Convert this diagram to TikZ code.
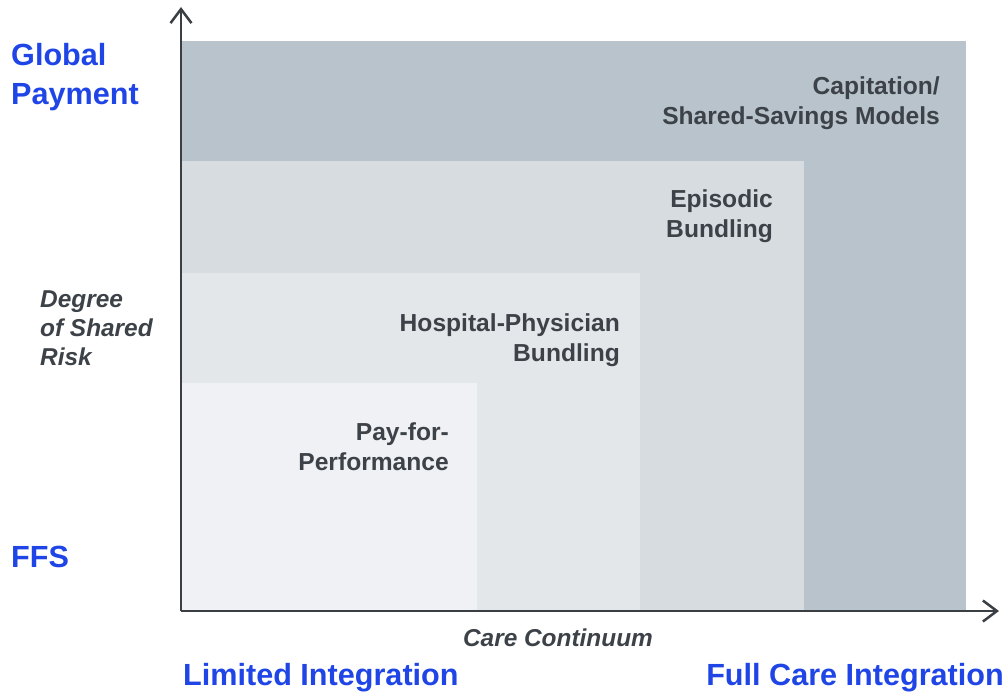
\documentclass[tikz,border=0pt]{standalone}
\usepackage{fontspec}
\setmainfont{Liberation Sans}
\usetikzlibrary{arrows.meta}
\definecolor{capc}{HTML}{B9C3CB}
\definecolor{epic}{HTML}{D6DCE0}
\definecolor{hosc}{HTML}{E3E7EA}
\definecolor{payc}{HTML}{EFF1F4}
\definecolor{axc}{HTML}{3A3F44}
\definecolor{txc}{HTML}{3C4248}
\definecolor{bluec}{HTML}{1F45E6}
\tikzset{
  boxlabel/.style={font=\fontsize{24.6}{30}\selectfont\bfseries, text=txc, align=right, inner sep=0pt, anchor=east},
  bluelabel/.style={font=\fontsize{30.6}{39}\selectfont\bfseries, text=bluec, align=left, inner sep=0pt},
  axlabel/.style={font=\fontsize{24.4}{29}\selectfont\bfseries\itshape, text=txc, inner sep=0pt},
  axisline/.style={draw=axc, line width=2.8pt, -{Straight Barb[length=14pt,width=21pt,line width=2.5pt]}}
}
\begin{document}
\begin{tikzpicture}[x=1pt,y=-1pt]
\useasboundingbox (0,0) rectangle (1007,694);
\fill[capc] (181,41) rectangle (966,611);
\fill[epic] (181,161) rectangle (804,611);
\fill[hosc] (181,273) rectangle (640,611);
\fill[payc] (181,383) rectangle (477,611);
\coordinate (o) at (181,611);
\coordinate (ytop) at (181,7);
\coordinate (xend) at (999,611);
\draw[axisline] (o) -- (ytop);
\draw[axisline] (o) -- (xend);
\node[boxlabel] (cap) at (940,103) {Capitation/\\Shared-Savings Models};
\node[boxlabel] (epi) at (773,216) {Episodic\\Bundling};
\node[boxlabel] (hos) at (620,340) {Hospital-Physician\\Bundling};
\node[boxlabel] (pay) at (449,447) {Pay-for-\\Performance};
\node[bluelabel, anchor=west] (glob) at (11,77) {Global\\Payment};
\node[bluelabel, anchor=west] (ffs) at (11,557) {FFS};
\node[axlabel, anchor=west, align=left] (deg) at (40,328) {Degree\\of Shared\\Risk};
\node[axlabel] (care) at (558,638) {Care Continuum};
\node[bluelabel, anchor=west] (lim) at (183,678) {Limited Integration};
\node[bluelabel, anchor=east] (full) at (1004,678) {Full Care Integration};
\end{tikzpicture}
\end{document}
